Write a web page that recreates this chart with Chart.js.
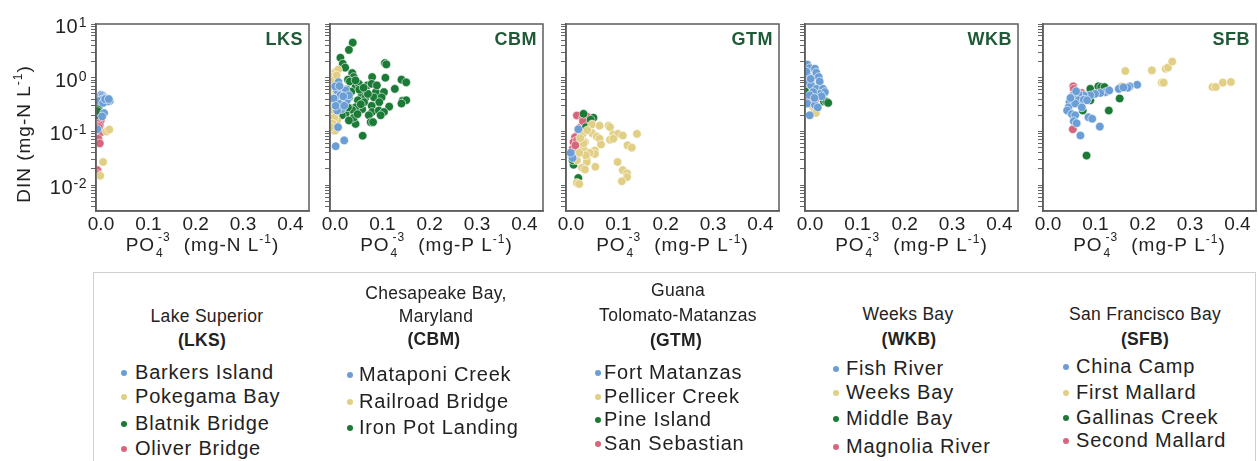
<!DOCTYPE html>
<html>
<head>
<meta charset="utf-8">
<script src="https://cdn.jsdelivr.net/npm/chart.js@4.4.1/dist/chart.umd.min.js"></script>
<style>
  html, body { margin: 0; padding: 0; background: #fff; }
  body { width: 1258px; height: 461px; overflow: hidden; position: relative;
         font-family: "Liberation Sans", Arial, sans-serif; color: #222; }
  canvas { position: absolute; }
  #legendBox { position: absolute; left: 93px; top: 272px; width: 1163px; height: 210px;
               border: 1px solid #cfcfcf; box-sizing: border-box; }
  .hd { position: absolute; transform: translate(-50%, -50%); font-size: 17.5px; line-height: 1;
        white-space: nowrap; letter-spacing: 0.3px; }
  .hd.b { font-weight: bold; }
  .it { position: absolute; transform: translateY(-50%); font-size: 20px; line-height: 1;
        white-space: nowrap; letter-spacing: 0.8px; }
  .dot { position: absolute; width: 6px; height: 6px; border-radius: 50%; transform: translate(-50%, -50%); }
</style>
</head>
<body>
<div id="legendBox"></div>
<script>
// ---- palette ----
const blue = '#6c9ed6';
const yellow = '#e2cf86';
const green = '#1c7a37';
const pink = '#d7667d';

// ---- axis ticks ----
const xTickValues = [0, 0.1, 0.2, 0.3, 0.4];
const yMajorExponents = [-2, -1, 0, 1];

// ---- Lake Superior (LKS): [PO4, DIN] ----
const lksBarkersIsland = [[0.008,0.45],[0.011,0.48],[0.014,0.46],[0.018,0.43],[0.021,0.41],[0.025,0.38],[0.029,0.37],[0.024,0.36],[0.012,0.39],[0.006,0.37],[0.015,0.34],[0.017,0.22],[0.013,0.19],[0.003,0.11],[0.019,0.40],[0.027,0.40]];
const lksPokegamaBay = [[0.022,0.100],[0.028,0.108],[0.015,0.027],[0.009,0.015]];
const lksBlatnikBridge = [[0.006,0.29],[0.004,0.27],[0.008,0.21],[0.002,0.20],[0.003,0.24]];
const lksOliverBridge = [[0.010,0.16],[0.008,0.13],[0.011,0.097],[0.006,0.12],[0.005,0.073],[0.008,0.060],[0.003,0.019],[0.004,0.016]];

// ---- Chesapeake Bay, Maryland (CBM) ----
const cbmMataponiCreek = [[0.018,0.83],[0.015,0.58],[0.025,0.62],[0.033,0.58],[0.022,0.47],[0.029,0.38],[0.018,0.33],[0.036,0.38],[0.025,0.26],[0.015,0.245],[0.040,0.47],[0.017,0.12],[0.030,0.068],[0.012,0.053],[0.008,0.41],[0.011,0.69],[0.020,0.70],[0.028,0.45],[0.012,0.30],[0.030,0.30]];
const cbmRailroadBridge = [[0.011,1.27],[0.017,1.41],[0.004,1.03],[0.001,0.77],[0.008,0.47],[0.004,0.30],[0.011,0.21],[0.015,0.16],[0.011,0.104],[0.006,0.90],[0.003,0.60],[0.007,0.65],[0.002,0.38],[0.006,0.25],[0.013,0.55],[0.009,0.18],[0.005,0.14],[0.014,1.10],[0.003,0.12]];
const cbmIronPotLanding = [[0.048,4.5],[0.040,3.3],[0.022,2.36],[0.027,1.82],[0.116,1.87],[0.119,1.77],[0.032,1.54],[0.047,1.22],[0.050,1.03],[0.089,1.03],[0.151,0.92],[0.161,0.82],[0.038,0.92],[0.042,0.85],[0.079,0.72],[0.088,0.77],[0.137,0.62],[0.054,0.67],[0.067,0.50],[0.097,0.54],[0.114,0.54],[0.075,0.43],[0.093,0.43],[0.109,0.43],[0.059,0.38],[0.153,0.37],[0.161,0.38],[0.151,0.33],[0.125,0.29],[0.104,0.35],[0.088,0.30],[0.068,0.26],[0.054,0.28],[0.047,0.25],[0.033,0.21],[0.089,0.23],[0.103,0.245],[0.114,0.23],[0.082,0.20],[0.107,0.20],[0.086,0.149],[0.091,0.149],[0.054,0.138],[0.069,0.083],[0.004,0.129],[0.010,0.104],[0.061,0.77],[0.054,0.89],[0.040,0.43],[0.050,0.18],[0.040,0.16],[0.025,0.20],[0.072,0.35],[0.117,1.00],[0.099,0.72],[0.035,0.60],[0.045,0.55],[0.062,0.60],[0.030,0.35],[0.065,0.32],[0.080,0.50],[0.038,0.28],[0.058,0.21],[0.020,0.50],[0.071,0.65]];

// ---- Guana Tolomato-Matanzas (GTM) ----
const gtmFortMatanzas = [[0.012,0.035],[0.014,0.032],[0.026,0.110],[0.010,0.040]];
const gtmPellicerCreek = [[0.055,0.135],[0.071,0.128],[0.090,0.128],[0.093,0.120],[0.055,0.093],[0.065,0.080],[0.071,0.073],[0.100,0.088],[0.110,0.090],[0.120,0.084],[0.150,0.090],[0.093,0.070],[0.100,0.073],[0.074,0.057],[0.040,0.063],[0.037,0.047],[0.061,0.044],[0.061,0.038],[0.130,0.055],[0.139,0.050],[0.044,0.031],[0.044,0.027],[0.023,0.029],[0.109,0.027],[0.034,0.021],[0.040,0.0195],[0.062,0.022],[0.120,0.019],[0.129,0.0166],[0.129,0.0141],[0.118,0.0118],[0.023,0.011],[0.028,0.0105],[0.035,0.090],[0.037,0.060],[0.030,0.075],[0.045,0.105],[0.050,0.040],[0.042,0.036],[0.028,0.040]];
const gtmPineIsland = [[0.037,0.213],[0.058,0.180],[0.052,0.165],[0.042,0.120],[0.016,0.024],[0.014,0.029],[0.026,0.0136]];
const gtmSanSebastian = [[0.023,0.198],[0.035,0.172],[0.044,0.190],[0.038,0.142],[0.031,0.120],[0.026,0.090],[0.019,0.078],[0.016,0.063],[0.014,0.047],[0.023,0.068],[0.033,0.084],[0.040,0.117],[0.028,0.105],[0.020,0.055],[0.036,0.155]];

// ---- Weeks Bay (WKB) ----
const wkbFishRiver = [[0.005,1.75],[0.010,1.51],[0.021,1.47],[0.024,1.24],[0.029,1.03],[0.031,0.85],[0.006,1.10],[0.005,0.83],[0.013,0.72],[0.024,0.62],[0.038,0.62],[0.042,0.54],[0.031,0.50],[0.017,0.54],[0.010,0.47],[0.005,0.33],[0.021,0.31],[0.027,0.28],[0.010,0.20],[0.003,1.30],[0.035,0.45],[0.020,0.42],[0.012,0.95]];
const wkbWeeksBay = [[0.017,0.28],[0.021,0.245],[0.023,0.22]];
const wkbMiddleBay = [[0.040,0.36],[0.045,0.36],[0.049,0.34],[0.001,0.55]];
const wkbMagnoliaRiver = [[0.005,0.72],[0.019,0.62],[0.006,0.41],[0.021,0.39]];

// ---- San Francisco Bay (SFB) ----
const sfbChinaCamp = [[0.199,0.74],[0.183,0.69],[0.179,0.65],[0.160,0.62],[0.132,0.54],[0.121,0.52],[0.110,0.50],[0.100,0.47],[0.086,0.47],[0.075,0.50],[0.064,0.47],[0.061,0.38],[0.075,0.38],[0.086,0.39],[0.056,0.35],[0.054,0.28],[0.068,0.33],[0.051,0.245],[0.061,0.21],[0.068,0.20],[0.065,0.155],[0.071,0.142],[0.096,0.184],[0.104,0.172],[0.120,0.123],[0.079,0.084],[0.082,0.28],[0.093,0.38],[0.170,0.66],[0.140,0.58],[0.070,0.56],[0.058,0.42]];
const sfbFirstMallard = [[0.174,1.33],[0.230,1.37],[0.259,1.47],[0.264,1.54],[0.273,2.0],[0.251,0.81],[0.255,0.81],[0.166,0.69],[0.358,0.67],[0.365,0.67],[0.380,0.81],[0.397,0.83]];
const sfbGallinasCreek = [[0.100,0.62],[0.117,0.69],[0.123,0.67],[0.130,0.67],[0.162,0.41],[0.139,0.245],[0.084,0.245],[0.100,0.38],[0.092,0.0355]];
const sfbSecondMallard = [[0.064,0.69],[0.065,0.62],[0.082,0.52],[0.068,0.45],[0.096,0.41],[0.063,0.11]];

// ---- estuary / site structure ----
const panels = [
  { code: 'LKS', unit: 'N', name: ['Lake Superior'], sites: [
    ['Barkers Island', lksBarkersIsland, blue], ['Pokegama Bay', lksPokegamaBay, yellow],
    ['Blatnik Bridge', lksBlatnikBridge, green], ['Oliver Bridge', lksOliverBridge, pink]] },
  { code: 'CBM', unit: 'P', name: ['Chesapeake Bay,', 'Maryland'], sites: [
    ['Mataponi Creek', cbmMataponiCreek, blue], ['Railroad Bridge', cbmRailroadBridge, yellow],
    ['Iron Pot Landing', cbmIronPotLanding, green]] },
  { code: 'GTM', unit: 'P', name: ['Guana', 'Tolomato-Matanzas'], sites: [
    ['Fort Matanzas', gtmFortMatanzas, blue], ['Pellicer Creek', gtmPellicerCreek, yellow],
    ['Pine Island', gtmPineIsland, green], ['San Sebastian', gtmSanSebastian, pink]] },
  { code: 'WKB', unit: 'P', name: ['Weeks Bay'], sites: [
    ['Fish River', wkbFishRiver, blue], ['Weeks Bay', wkbWeeksBay, yellow],
    ['Middle Bay', wkbMiddleBay, green], ['Magnolia River', wkbMagnoliaRiver, pink]] },
  { code: 'SFB', unit: 'P', name: ['San Francisco Bay'], sites: [
    ['China Camp', sfbChinaCamp, blue], ['First Mallard', sfbFirstMallard, yellow],
    ['Gallinas Creek', sfbGallinasCreek, green], ['Second Mallard', sfbSecondMallard, pink]] }
];

// ---- layout ----
const FONT = '"Liberation Sans", Arial, sans-serif';
const panelLefts = [96, 330, 566, 805, 1043];
const PW = 213, PH = 187, PT = 24;
const X_MIN = 0, X_MAX = 0.45;
const Y_MIN = 0.0033, Y_MAX = 10;

// log tick marks: every integer multiple inside each decade
const yTickValues = [];
for (let e = -3; e <= 0; e++) {
  for (let s = 1; s <= 9; s++) {
    const v = s * Math.pow(10, e);
    if (v >= Y_MIN && v <= Y_MAX) yTickValues.push(v);
  }
}
yTickValues.push(10);

function setSpacing(ctx, px) { if ('letterSpacing' in ctx) ctx.letterSpacing = px + 'px'; }

function measure(ctx, text, size, weight) {
  ctx.font = (weight || 'normal') + ' ' + size + 'px ' + FONT;
  return ctx.measureText(text).width;
}
function put(ctx, text, x, y, size, weight) {
  ctx.font = (weight || 'normal') + ' ' + size + 'px ' + FONT;
  ctx.fillText(text, x, y);
}

// PO4^-3 (mg-X L^-1) axis title
function drawXTitle(ctx, cx, base, unit) {
  ctx.save();
  setSpacing(ctx, 1);
  ctx.fillStyle = '#222';
  ctx.textAlign = 'left';
  ctx.textBaseline = 'alphabetic';
  const big = 19, small = 12;
  const w1 = measure(ctx, 'PO', big);
  const wSub = measure(ctx, '4', small);
  const wSup = measure(ctx, '-3', small);
  const stackW = Math.max(wSub + 1, wSup + 3);
  const gap = 13;
  const mid = '(mg-' + unit + ' L';
  const w2 = measure(ctx, mid, big);
  const wSup2 = measure(ctx, '-1', small);
  const w3 = measure(ctx, ')', big);
  let x = cx - (w1 + stackW + gap + w2 + wSup2 + w3) / 2;
  put(ctx, 'PO', x, base, big); x += w1;
  put(ctx, '4', x + 1, base + 6, small);
  put(ctx, '-3', x + 3, base - 10, small);
  x += stackW + gap;
  put(ctx, mid, x, base, big); x += w2;
  put(ctx, '-1', x, base - 8, small); x += wSup2;
  put(ctx, ')', x, base, big);
  ctx.restore();
}

// DIN (mg-N L^-1), rotated
function drawYTitle(ctx, cx, cy) {
  ctx.save();
  ctx.translate(cx, cy);
  ctx.rotate(-Math.PI / 2);
  setSpacing(ctx, 1);
  ctx.fillStyle = '#222';
  ctx.textAlign = 'left';
  ctx.textBaseline = 'alphabetic';
  const big = 19, small = 12;
  const a = 'DIN (mg-N L';
  const wa = measure(ctx, a, big), wb = measure(ctx, '-1', small), wc = measure(ctx, ')', big);
  let x = -(wa + wb + wc) / 2;
  const base = 7;
  put(ctx, a, x, base, big); x += wa;
  put(ctx, '-1', x, base - 8, small); x += wb;
  put(ctx, ')', x, base, big);
  ctx.restore();
}

const panelDecor = {
  id: 'panelDecor',
  afterDraw(chart, args, opts) {
    const ctx = chart.ctx;
    const ca = chart.chartArea;
    ctx.save();
    // frame
    ctx.strokeStyle = '#5c5c5c';
    ctx.lineWidth = 1.5;
    ctx.strokeRect(ca.left, ca.top, ca.right - ca.left, ca.bottom - ca.top);
    // estuary code
    ctx.fillStyle = '#1f5a37';
    ctx.textAlign = 'right';
    ctx.textBaseline = 'alphabetic';
    setSpacing(ctx, 0.5);
    put(ctx, opts.code, ca.right - 6, ca.top + 21, 18, 'bold');
    ctx.restore();

    drawXTitle(ctx, (ca.left + ca.right) / 2, ca.bottom + 40, opts.unit);

    if (opts.yLabels) {
      const ys = chart.scales.y;
      ctx.save();
      ctx.fillStyle = '#222';
      ctx.textBaseline = 'alphabetic';
      ctx.textAlign = 'right';
      setSpacing(ctx, 0.5);
      yMajorExponents.forEach(e => {
        const py = ys.getPixelForValue(Math.pow(10, e));
        const sup = String(e);
        const right = ca.left - 9;
        const wSup = measure(ctx, sup, 14);
        put(ctx, sup, right, py + 3, 14);
        put(ctx, '10', right - wSup - 0.5, py + 9, 20);
      });
      ctx.restore();
      drawYTitle(ctx, 23, 124);
    }
  }
};

panels.forEach((p, i) => {
  const first = i === 0;
  const YW = first ? 96 : 30;
  const PADT = 14, PADR = 6, XH = 50;
  const cv = document.createElement('canvas');
  cv.width = YW + PW + PADR;
  cv.height = PADT + PH + XH;
  cv.style.left = (panelLefts[i] - YW) + 'px';
  cv.style.top = (PT - PADT) + 'px';
  document.body.appendChild(cv);

  const datasets = p.sites.map(([label, pts, color]) => ({
    label,
    data: pts.map(([x, y]) => ({ x, y })),
    backgroundColor: color,
    borderColor: 'rgba(255,255,255,0.85)',
    borderWidth: 0.7,
    pointRadius: 4.3,
    pointHoverRadius: 4.3
  }));

  const chart = new Chart(cv, {
    type: 'scatter',
    data: { datasets },
    options: {
      responsive: false,
      animation: false,
      devicePixelRatio: 1,
      events: [],
      layout: { padding: { top: PADT, right: PADR, left: 0, bottom: 0 } },
      plugins: {
        legend: { display: false },
        tooltip: { enabled: false },
        panelDecor: { code: p.code, unit: p.unit, yLabels: first }
      },
      scales: {
        x: {
          type: 'linear',
          min: X_MIN, max: X_MAX,
          afterBuildTicks(s) { s.ticks = xTickValues.map(v => ({ value: v })); },
          afterFit(s) { s.height = XH; },
          grid: { display: true, drawOnChartArea: false, drawTicks: false },
          border: { display: true, color: '#5c5c5c', width: 1.5 },
          ticks: {
            padding: 2,
            labelOffset: 5,
            color: '#222',
            font: { family: FONT, size: 19 },
            callback: v => Number(v).toFixed(1),
            maxRotation: 0, autoSkip: false
          }
        },
        y: {
          type: 'logarithmic',
          min: Y_MIN, max: Y_MAX,
          afterBuildTicks(s) { s.ticks = yTickValues.map(v => ({ value: v })); },
          afterFit(s) { s.width = YW; },
          grid: { display: true, drawOnChartArea: false, drawTicks: true, tickLength: 5, color: '#666', lineWidth: 1 },
          border: { display: true, color: '#5c5c5c', width: 1.5 },
          ticks: { display: false, autoSkip: false }
        }
      }
    },
    plugins: [panelDecor]
  });

  // pin the plotting area onto its slot
  const ca = chart.chartArea;
  cv.style.left = (panelLefts[i] - ca.left) + 'px';
  cv.style.top = (PT - ca.top) + 'px';
});

// ---- legend ----
const legendCols = [
  { cx: 207, bx: 202, hy: [317], by: 341, dotX: 124, textX: 135, rows: [372, 396, 423, 448] },
  { cx: 436, bx: 434, hy: [294, 317], by: 340, dotX: 350, textX: 359, rows: [374, 401, 427] },
  { cx: 678, bx: 676, hy: [291, 316], by: 341, dotX: 598, textX: 604, rows: [372, 396, 419, 443] },
  { cx: 908, bx: 909, hy: [315], by: 340, dotX: 836, textX: 846, rows: [368, 392, 418, 446] },
  { cx: 1145, bx: 1145, hy: [315], by: 340, dotX: 1066, textX: 1076, rows: [366, 392, 417, 440] }
];

function addEl(cls, text, left, top, extra) {
  const d = document.createElement('div');
  d.className = cls;
  if (text !== null) d.textContent = text;
  d.style.left = left + 'px';
  d.style.top = top + 'px';
  if (extra) Object.assign(d.style, extra);
  document.body.appendChild(d);
}

panels.forEach((p, i) => {
  const c = legendCols[i];
  p.name.forEach((line, k) => addEl('hd', line, c.cx, c.hy[k]));
  addEl('hd b', '(' + p.code + ')', c.bx, c.by);
  p.sites.forEach(([label, , color], k) => {
    addEl('dot', null, c.dotX, c.rows[k] + 1, { background: color });
    addEl('it', label, c.textX, c.rows[k]);
  });
});
</script>
</body>
</html>
